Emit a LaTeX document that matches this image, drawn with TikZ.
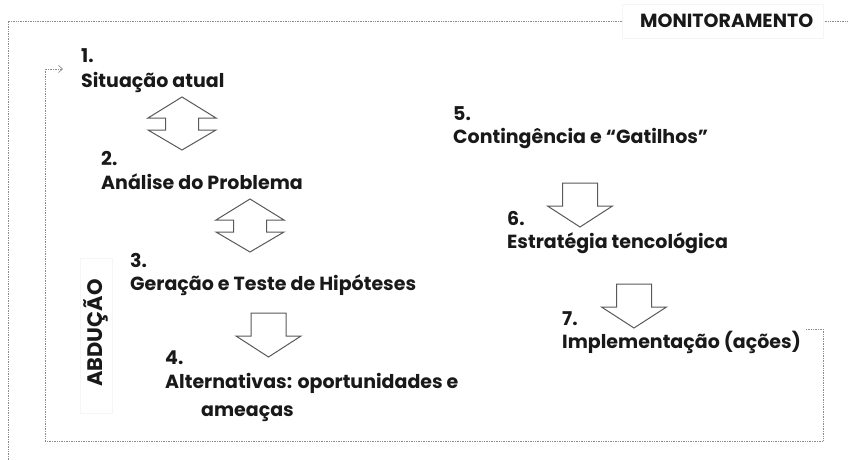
\documentclass[tikz,border=0pt]{standalone}
\usepackage{fontspec}
\setmainfont{Poppins}
\usetikzlibrary{arrows.meta}
\begin{document}
\begin{tikzpicture}[x=1pt,y=-1pt,
  txt/.style={font=\bfseries\fontsize{19}{23}\selectfont, inner sep=0pt, anchor=base west, text=black!90},
  loopline/.style={densely dotted, draw=black!45, line width=0.7pt},
  faint/.style={draw=black!4, line width=0.5pt},
  blockline/.style={draw=black!65, line width=1pt, fill=white, line join=miter},
  dblarrow/.pic={\draw[blockline] (0,0) -- (-34,21) -- (-16.5,21) -- (-16.5,33) -- (-34,33) -- (0,53) -- (34,33) -- (16.5,33) -- (16.5,21) -- (34,21) -- cycle;},
  downarrow/.pic={\draw[blockline] (-17.5,0) -- (17.5,0) -- (17.5,23) -- (32.5,23) -- (0,44) -- (-32.5,23) -- (-17.5,23) -- cycle;}
]
\useasboundingbox (0,0) rectangle (848,460);
% outer frame
\draw[loopline] (8,460) -- (8,21) -- (622,21);
\draw[loopline] (823,21) -- (848,21);
\draw[faint, fill=white] (622,4) rectangle (823,38);
\node[txt] (mon) at (640,28) {MONITORAMENTO};
% abduction label
\draw[faint] (80,258) rectangle (112,413);
\node[font=\bfseries\fontsize{21}{24}\selectfont, inner sep=0pt, rotate=90, text=black!90] (abd) at (96,333) {ABDUÇÃO};
% items
\node[txt] (n1) at (81,63) {1.};
\node[txt] (t1) at (81,87) {Situação atual};
\node[txt] (n2) at (101,165) {2.};
\node[txt] (t2) at (101,189) {Análise do Problema};
\node[txt] (n3) at (130,267) {3.};
\node[txt] (t3) at (130,290) {Geração e Teste de Hipóteses};
\node[txt] (n4) at (165,364) {4.};
\node[txt] (t4a) at (165,388) {Alternativas: oportunidades e};
\node[txt] (t4b) at (201,416) {ameaças};
\node[txt] (n5) at (453,120) {5.};
\node[txt] (t5) at (453,143) {Contingência e “Gatilhos”};
\node[txt] (n6) at (507,225) {6.};
\node[txt] (t6) at (507,248) {Estratégia tencológica};
\node[txt] (n7) at (562,325) {7.};
\node[txt] (t7) at (562,348) {Implementação (ações)};
% block arrows
\pic at (182,97) {dblarrow};
\pic at (250,199) {dblarrow};
\pic at (268.5,313) {downarrow};
\pic at (580,183) {downarrow};
\pic at (634,284) {downarrow};
% feedback loop
\coordinate (lpa) at (806,329);
\coordinate (lpb) at (823,329);
\coordinate (lpc) at (823,441);
\coordinate (lpd) at (45,441);
\coordinate (lpe) at (45,69);
\coordinate (lpf) at (63,69);
\draw[loopline, -{Straight Barb[length=4pt,width=7pt,line width=0.7pt]}] (lpa) -- (lpb) -- (lpc) -- (lpd) -- (lpe) -- (lpf);
\end{tikzpicture}
\end{document}
